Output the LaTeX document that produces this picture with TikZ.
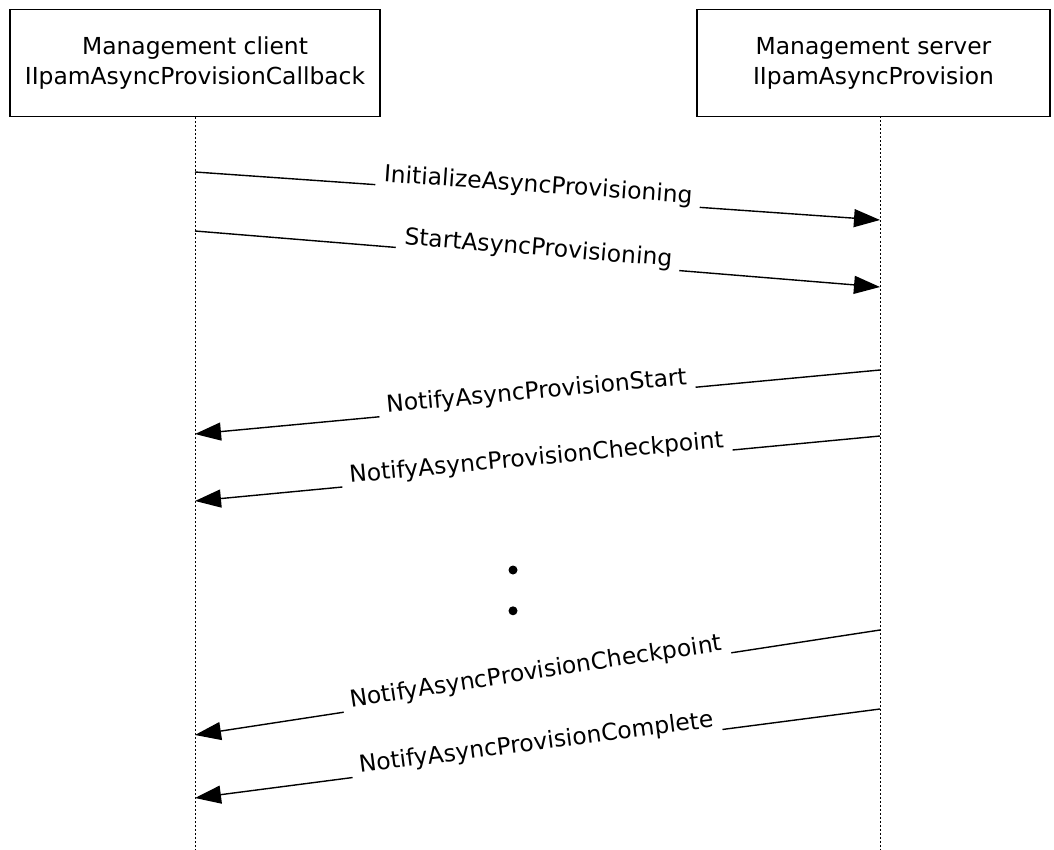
\documentclass[tikz,border=0pt]{standalone}
\usepackage{fontspec}
\setmainfont{DejaVu Sans}
\usetikzlibrary{positioning,arrows.meta}
\tikzset{box node/.style={draw,rectangle,line width=0.7pt,minimum width=185pt,minimum height=53.5pt,align=center,inner sep=0pt,font=\fontsize{11.7}{15}\selectfont},}
\tikzset{life line/.style={line width=0.5pt,dash pattern=on 1pt off 1pt},}
\tikzset{call line/.style={-{Triangle[length=13pt,width=9pt]},line width=0.7pt},}
\tikzset{call label/.style={midway,sloped,fill=white,inner xsep=4pt,inner ysep=2pt,yshift=5pt,font=\fontsize{11.7}{14}\selectfont},}
\tikzset{dot node/.style={circle,fill=black,minimum size=4.5pt,inner sep=0pt},}

\begin{document}
\begin{tikzpicture}[x=0.5pt,y=-0.5pt]
       \useasboundingbox (0,0) rectangle (1054,850);

       \node[box node] (client) at (195,63) {Management client\\IIpamAsyncProvisionCallback};
       \node[box node,minimum width=176.5pt] (server) at (873.5,63) {Management server\\IIpamAsyncProvision};

       \coordinate (client end) at (195,850);
       \coordinate (server top) at (880,116.5);
       \coordinate (server end) at (880,850);
       \draw[life line] (client.south) -- (client end);
       \draw[life line] (server top) -- (server end);

       \coordinate (c1) at (195,172);
       \coordinate (s1) at (880,220);
       \coordinate (c2) at (195,231);
       \coordinate (s2) at (880,287);
       \coordinate (s3) at (880,370);
       \coordinate (c3) at (195,434);
       \coordinate (s4) at (880,436);
       \coordinate (c4) at (195,501);
       \coordinate (s5) at (880,630);
       \coordinate (c5) at (195,735);
       \coordinate (s6) at (880,709);
       \coordinate (c6) at (195,798);

       \draw[call line] (c1) -- node[call label] (m1) {InitializeAsyncProvisioning} (s1);
       \draw[call line] (c2) -- node[call label] (m2) {StartAsyncProvisioning} (s2);
       \draw[call line] (s3) -- node[call label] (m3) {NotifyAsyncProvisionStart} (c3);
       \draw[call line] (s4) -- node[call label] (m4) {NotifyAsyncProvisionCheckpoint} (c4);

       \node[dot node] (dot1) at (513,570) {};
       \node[dot node] (dot2) [below = 15.5pt of dot1] {};

       \draw[call line] (s5) -- node[call label] (m5) {NotifyAsyncProvisionCheckpoint} (c5);
       \draw[call line] (s6) -- node[call label] (m6) {NotifyAsyncProvisionComplete} (c6);
    \end{tikzpicture}
\end{document}
